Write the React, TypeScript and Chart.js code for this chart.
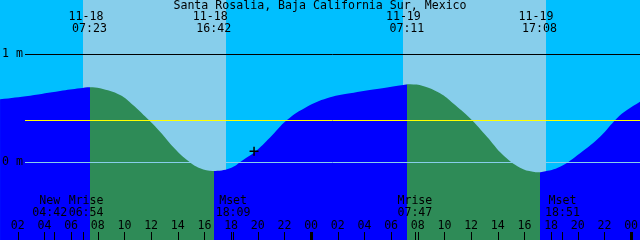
import React, { useEffect, useRef } from "react";
import { Chart, registerables } from "chart.js";

Chart.register(...registerables);

// ---------- data ----------
const TITLE = "Santa Rosalia, Baja California Sur, Mexico";

// hours since 00:00 on 11-18, tide level in metres
const tideHours = [
  0.67, 2.92, 5.17, 6.67, 7.42, 8.17, 9.67, 10.64, 11.69, 12.67, 13.64, 14.69,
  15.67, 16.64, 17.92, 18.9, 19.79, 20.92, 22.19, 23.69, 25.19, 26.92, 28.94,
  30.9, 31.42, 32.39, 33.67, 34.64, 35.92, 37.19, 38.39, 39.67, 40.64, 41.39,
  42.67, 44.17, 45.67, 46.94, 47.69, 48.67,
];
const tideLevels = [
  0.581, 0.614, 0.657, 0.682, 0.692, 0.682, 0.62, 0.528, 0.405, 0.281, 0.142,
  0.019, -0.058, -0.083, -0.058, 0.019, 0.095, 0.228, 0.389, 0.512, 0.59, 0.636,
  0.676, 0.713, 0.719, 0.704, 0.636, 0.544, 0.405, 0.234, 0.065, -0.053, -0.09,
  -0.09, -0.044, 0.081, 0.234, 0.405, 0.481, 0.558,
];

// sunrise / sunset
const sunHours = [7.383, 16.7, 31.183, 41.133];
const sunDates = ["11-18", "11-18", "11-19", "11-19"];
const sunTimes = ["07:23", "16:42", "07:11", "17:08"];

// light sky spans (start, end)
const skyStarts = [6.89, 30.89];
const skyEnds = [17.62, 41.62];

// moon events
const moonHours = [4.7, 6.9, 18.15, 31.783, 42.85];
const moonNames = ["New", "Mrise", "Mset", "Mrise", "Mset"];
const moonTimes = ["04:42", "06:54", "18:09", "07:47", "18:51"];
const moonLabelNudge = [-4, 3, 0, 0, 0];

// hour axis
const hourTicks = [2, 4, 6, 8, 10, 12, 14, 16, 18, 20, 22, 24, 26, 28, 30, 32, 34, 36, 38, 40, 42, 44, 46, 48];
const hourLabels = ["02", "04", "06", "08", "10", "12", "14", "16", "18", "20", "22", "00", "02", "04", "06", "08", "10", "12", "14", "16", "18", "20", "22", "00"];

// level lines
const levelMarks = [1, 0];
const levelLabels = ["1 m", "0 m"];
const meanLevel = 0.39;

// "now" marker
const nowHour = 19.72;
const nowLevel = 0.1;

const X_MIN = 0.6667;
const X_MAX = 48.6667;
const Y_MIN = -0.7222;
const Y_MAX = 1.5;

// ---------- styles ----------
const NIGHT_SKY = "#00BFFF";
const DAY_SKY = "#87CEEB";
const NIGHT_WATER = "#0000FF";
const DAY_WATER = "#2E8B57";
const FONT = "11.6px 'DejaVu Sans Mono'";

const skyPlugin = {
  id: "sky",
  beforeDraw(chart: any) {
    const { ctx, chartArea: a, scales } = chart;
    const xs = scales.x;
    ctx.save();
    ctx.fillStyle = NIGHT_SKY;
    ctx.fillRect(a.left, a.top, a.right - a.left, a.bottom - a.top);
    ctx.fillStyle = DAY_SKY;
    for (let i = 0; i < skyStarts.length; i++) {
      const x1 = Math.round(xs.getPixelForValue(skyStarts[i]));
      const x2 = Math.round(xs.getPixelForValue(skyEnds[i]));
      ctx.fillRect(x1, a.top, x2 - x1, a.bottom - a.top);
    }
    ctx.restore();
  },
};

const overlayPlugin = {
  id: "overlay",
  afterDatasetsDraw(chart: any) {
    const { ctx, chartArea: a, scales } = chart;
    const xs = scales.x;
    const ys = scales.y;
    ctx.save();
    // level lines
    const lineStart = a.left + 25;
    const hline = (v: number, color: string) => {
      const y = Math.round(ys.getPixelForValue(v)) + 0.5;
      ctx.strokeStyle = color;
      ctx.lineWidth = 1;
      ctx.beginPath();
      ctx.moveTo(lineStart, y);
      ctx.lineTo(a.right, y);
      ctx.stroke();
    };
    hline(levelMarks[0], "#000000");
    hline(levelMarks[1], DAY_SKY);
    hline(meanLevel, "#FFFF00");

    ctx.font = FONT;
    ctx.fillStyle = "#000";
    ctx.textBaseline = "middle";
    ctx.textAlign = "left";
    for (let i = 0; i < levelMarks.length; i++) {
      ctx.fillText(levelLabels[i], a.left + 2, ys.getPixelForValue(levelMarks[i]));
    }

    // title
    ctx.textAlign = "center";
    ctx.fillText(TITLE, (a.left + a.right) / 2, 6);

    // sun events
    for (let i = 0; i < sunHours.length; i++) {
      const x = xs.getPixelForValue(sunHours[i]);
      ctx.fillText(sunDates[i], x - 3.5, 17);
      ctx.fillText(sunTimes[i], x, 29);
    }

    // moon events
    for (let i = 0; i < moonHours.length; i++) {
      const x = xs.getPixelForValue(moonHours[i]) + moonLabelNudge[i];
      ctx.fillText(moonNames[i], x, 201);
      ctx.fillText(moonTimes[i], x, 213);
    }

    // hour labels & ticks
    for (let i = 0; i < hourTicks.length; i++) {
      const px = xs.getPixelForValue(hourTicks[i]);
      ctx.fillText(hourLabels[i], px, 226);
      const x = Math.round(px);
      if (hourTicks[i] % 24 === 0) {
        ctx.fillRect(x - 1, 232, 3, 8);
      } else {
        ctx.fillRect(x, 232, 1, 8);
      }
    }
    for (let i = 0; i < moonHours.length; i++) {
      const x = Math.round(xs.getPixelForValue(moonHours[i]));
      ctx.fillRect(x, 232, 1, 8);
    }
    ctx.restore();
  },
};

export default function App() {
  const ref = useRef<HTMLCanvasElement | null>(null);

  useEffect(() => {
    document.body.style.margin = "0";
    const canvas = ref.current;
    if (!canvas) return;
    const tide = tideHours.map((h, i) => ({ x: h, y: tideLevels[i] }));
    const chart = new Chart(canvas, {
      type: "line",
      data: {
        datasets: [
          {
            type: "scatter",
            data: [{ x: nowHour, y: nowLevel }],
            pointStyle: "cross",
            pointRadius: 4.5,
            borderColor: "#000",
            borderWidth: 1.5,
            backgroundColor: "#000",
            order: 0,
          } as any,
          {
            data: tide,
            fill: "start",
            borderColor: "transparent",
            borderWidth: 0,
            pointRadius: 0,
            tension: 0.4,
            order: 1,
            backgroundColor: (c: any) => {
              const ch = c.chart;
              const area = ch.chartArea;
              if (!area) return NIGHT_WATER;
              const xs = ch.scales.x;
              const w = area.right - area.left;
              const g = ch.ctx.createLinearGradient(area.left, 0, area.right, 0);
              g.addColorStop(0, NIGHT_WATER);
              for (let i = 0; i + 1 < sunHours.length; i += 2) {
                const pa = Math.min(1, Math.max(0, (xs.getPixelForValue(sunHours[i]) - area.left) / w));
                const pb = Math.min(1, Math.max(0, (xs.getPixelForValue(sunHours[i + 1]) - area.left) / w));
                g.addColorStop(pa, NIGHT_WATER);
                g.addColorStop(pa, DAY_WATER);
                g.addColorStop(pb, DAY_WATER);
                g.addColorStop(pb, NIGHT_WATER);
              }
              g.addColorStop(1, NIGHT_WATER);
              return g;
            },
          },
        ],
      },
      options: {
        animation: false,
        responsive: false,
        devicePixelRatio: 1,
        layout: { padding: 0, autoPadding: false },
        plugins: { legend: { display: false }, tooltip: { enabled: false }, title: { display: false } },
        events: [],
        scales: {
          x: { type: "linear", min: X_MIN, max: X_MAX, display: false },
          y: { type: "linear", min: Y_MIN, max: Y_MAX, display: false },
        },
      },
      plugins: [skyPlugin, overlayPlugin],
    });
    return () => chart.destroy();
  }, []);

  return (
    <div style={{ position: "fixed", left: 0, top: 0, width: 640, height: 240 }}>
      <canvas ref={ref} width={640} height={240} style={{ display: "block" }} />
    </div>
  );
}
